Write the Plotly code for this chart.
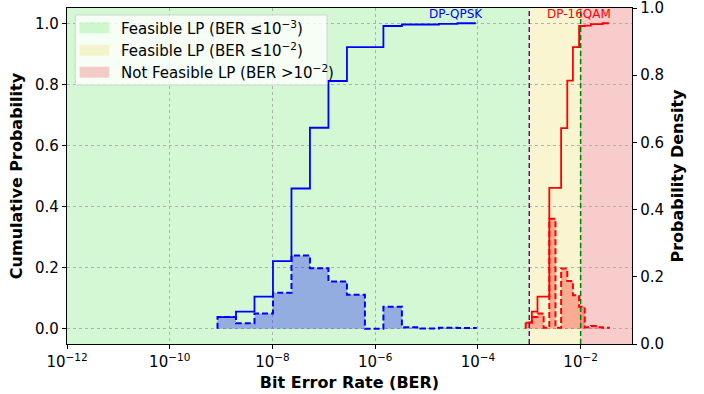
import plotly.graph_objects as go

# Histogram bin edges (log10 of BER) for each modulation format
qpsk_edges_log = [-9.07, -8.71, -8.35, -7.99, -7.63, -7.27, -6.91, -6.55,
                  -6.20, -5.84, -5.48, -5.12, -4.76, -4.40, -4.04]
qam16_edges_log = [-3.07, -2.95, -2.84, -2.72, -2.61, -2.49, -2.38, -2.26,
                   -2.15, -2.03, -1.92, -1.80, -1.68, -1.57, -1.45]

# Per-bin probability (dashed, filled) and cumulative probability (solid)
qpsk_pdf = [0.038, 0.018, 0.050, 0.118, 0.240, 0.198, 0.155, 0.111,
            0.000, 0.072, 0.005, 0.001, 0.003, 0.002]
qpsk_cdf = [0.038, 0.056, 0.105, 0.221, 0.459, 0.658, 0.811, 0.922,
            0.922, 0.991, 0.996, 0.996, 0.998, 1.000]
qam16_pdf = [0.020, 0.038, 0.050, 0.003, 0.360, 0.003, 0.197, 0.156,
             0.110, 0.072, 0.005, 0.009, 0.005, 0.003]
qam16_cdf = [0.020, 0.056, 0.105, 0.105, 0.461, 0.461, 0.657, 0.812,
             0.922, 0.991, 0.992, 0.997, 0.997, 1.000]

# BER thresholds
ber_fec_low = 1e-3
ber_fec_high = 1e-2
x_range_log = [-12, -1]

tick_exps = [-12, -10, -8, -6, -4, -2]
y_ticks = [0.0, 0.2, 0.4, 0.6, 0.8, 1.0]

legend_labels = [
    "Feasible LP (BER \u226410<sup>\u22123</sup>)",
    "Feasible LP (BER \u226410<sup>\u22122</sup>)",
    "Not Feasible LP (BER >10<sup>\u22122</sup>)",
]
region_colors = ["rgba(144,238,144,0.4)", "rgba(240,230,140,0.4)", "rgba(240,128,128,0.4)"]

FONT = "DejaVu Sans"


def hist_outline(edges_log, vals):
    xs = [10 ** e for e in edges_log]
    x = [xs[0]] + xs[:-1] + [xs[-1], xs[-1]]
    y = [0.0] + list(vals) + [vals[-1], 0.0]
    return x, y


def cdf_steps(edges_log, vals):
    xs = [10 ** e for e in edges_log]
    return xs, list(vals) + [vals[-1]]


fig = go.Figure()

for edges, pdf, cdf, col, fill in [
    (qpsk_edges_log, qpsk_pdf, qpsk_cdf, "blue", "rgba(0,0,255,0.3)"),
    (qam16_edges_log, qam16_pdf, qam16_cdf, "red", "rgba(255,0,0,0.3)"),
]:
    hx, hy = hist_outline(edges, pdf)
    fig.add_trace(go.Scatter(x=hx, y=hy, mode="lines", line_shape="hv",
                             line=dict(color=col, width=2, dash="6px,3px"),
                             fill="tozeroy", fillcolor=fill, showlegend=False,
                             hoverinfo="skip"))
    cx, cy = cdf_steps(edges, cdf)
    fig.add_trace(go.Scatter(x=cx, y=cy, mode="lines", line_shape="hv",
                             line=dict(color=col, width=1.8), showlegend=False,
                             hoverinfo="skip"))

# Dummy trace to activate the right-hand axis
fig.add_trace(go.Scatter(x=[None], y=[None], yaxis="y2", showlegend=False))

# Feasibility regions
bounds = [10 ** x_range_log[0], ber_fec_low, ber_fec_high, 10 ** x_range_log[1]]
for i, c in enumerate(region_colors):
    fig.add_vrect(x0=bounds[i], x1=bounds[i + 1], fillcolor=c, line_width=0, layer="below")

fig.add_vline(x=ber_fec_low, line=dict(color="purple", width=1.5, dash="5px,3px"))
fig.add_vline(x=ber_fec_high, line=dict(color="green", width=1.5, dash="5px,3px"))

# Format labels
fig.add_annotation(x=-4.42, y=1.0, xref="x", yref="y", text="DP-QPSK", showarrow=False,
                   yanchor="bottom", font=dict(family=FONT, size=12, color="blue"))
fig.add_annotation(x=-2.04, y=1.0, xref="x", yref="y", text="DP-16QAM", showarrow=False,
                   yanchor="bottom", font=dict(family=FONT, size=12, color="red"))

# Legend box (plot-area paper coordinates)
MARGIN_T, MARGIN_B = 8, 50
W, H = 565.6, 394 - MARGIN_T - MARGIN_B
X0, Y0 = 66.7, 394 - MARGIN_B


def px(x):
    return (x - X0) / W


def py(y):
    return (Y0 - y) / H


fig.add_shape(type="rect", xref="paper", yref="paper", x0=px(75), x1=px(327), y0=py(85), y1=py(15),
              fillcolor="rgba(255,255,255,0.8)", line=dict(color="rgba(204,204,204,0.8)", width=1),
              layer="above")
rows = [(22.3, 33.3), (45.0, 55.7), (66.7, 77.7)]
for (t, b), c, lab in zip(rows, region_colors, legend_labels):
    fig.add_shape(type="rect", xref="paper", yref="paper", x0=px(79.3), x1=px(109), y0=py(b), y1=py(t),
                  fillcolor=c, line_width=0, layer="above")
    fig.add_annotation(xref="paper", yref="paper", x=px(119), y=py((t + b) / 2), text=lab,
                       showarrow=False, xanchor="left", yanchor="middle",
                       font=dict(family=FONT, size=15, color="black"))

axis_common = dict(showline=True, linecolor="black", linewidth=1.3, ticks="outside",
                   ticklen=4, tickcolor="black", tickfont=dict(family=FONT, size=15, color="black"),
                   zeroline=False, ticklabeloverflow="allow", automargin=False)

fig.update_layout(
    width=704, height=394,
    margin=dict(l=67, r=72, t=MARGIN_T, b=MARGIN_B),
    paper_bgcolor="white", plot_bgcolor="white",
    font=dict(family=FONT, color="black"),
    showlegend=False,
    xaxis=dict(type="log", range=x_range_log, tickvals=[10 ** e for e in tick_exps],
               ticktext=[f"10<sup>\u2212{-e}</sup>" for e in tick_exps],
               showgrid=True, gridcolor="#b0b0b0", griddash="dot", gridwidth=1,
               mirror=True,
               title=dict(text="<b>Bit Error Rate (BER)</b>", font=dict(family=FONT, size=16), standoff=6),
               **axis_common),
    yaxis=dict(range=[-0.05, 1.05], tickvals=y_ticks, ticktext=[f"{v:.1f}" for v in y_ticks],
               showgrid=True, gridcolor="#b0b0b0", griddash="dot", gridwidth=1,
               title=dict(text="<b>Cumulative Probability</b>", font=dict(family=FONT, size=16), standoff=8),
               **axis_common),
    yaxis2=dict(range=[0, 1], overlaying="y", side="right", tickvals=y_ticks,
                ticktext=[f"{v:.1f}" for v in y_ticks], showgrid=False,
                title=dict(text="<b>Probability Density</b>", font=dict(family=FONT, size=16), standoff=8),
                **axis_common),
)

fig.write_html("out.html")
